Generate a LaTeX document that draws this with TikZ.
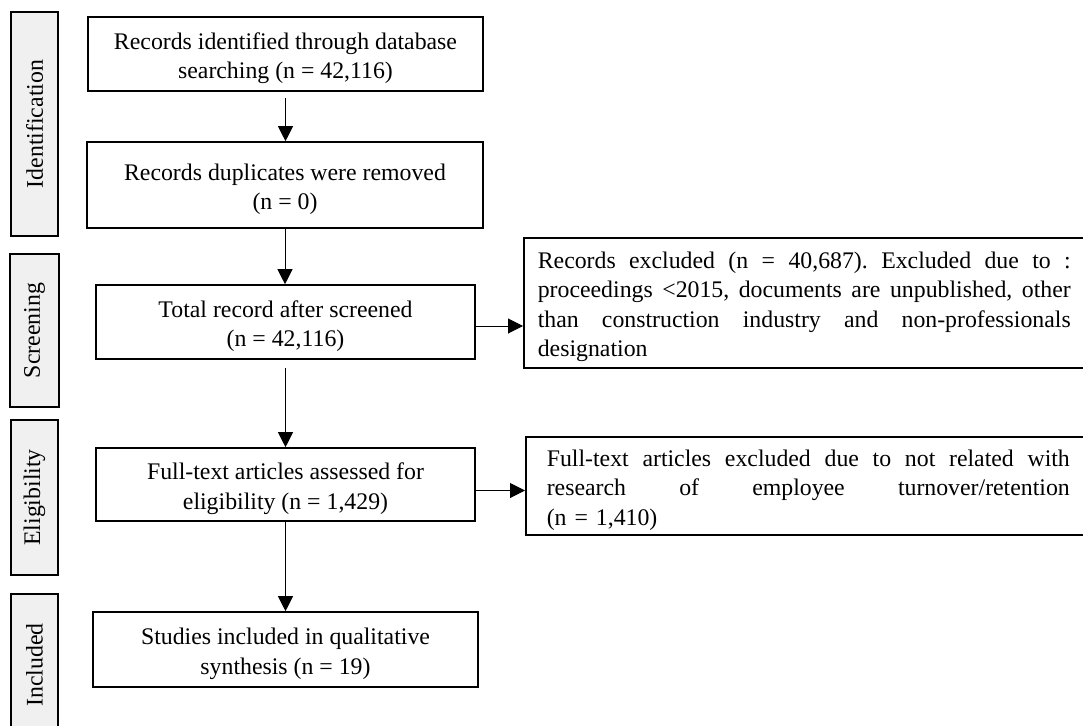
\documentclass[tikz,border=0pt]{standalone}
\usepackage{fontspec}
\setmainfont{Liberation Serif}
\usetikzlibrary{arrows.meta}
\definecolor{sidegray}{HTML}{F0F0F0}
\newcommand{\diagfont}{\fontsize{23.8}{29.5}\selectfont}
\newcommand{\jline}[2]{\leavevmode\hbox to #1{#2}}
\newcommand{\lowstrut}{\rule{0pt}{25pt}}
\begin{document}
\begin{tikzpicture}[x=1pt,y=-1pt,
  mainbox/.style={draw, line width=1.6pt, inner sep=0pt, align=center, font=\diagfont},
  exbox/.style={draw, line width=1.6pt, inner ysep=0pt, align=left, font=\diagfont, anchor=north west},
  sidebox/.style={draw, line width=1.4pt, fill=sidegray, inner sep=0pt, rotate=90, font=\diagfont},
  arr/.style={line width=1pt, -{Triangle[length=15pt,width=15pt]}}]
\useasboundingbox (0,0) rectangle (1083,725);
% side labels
\node[sidebox, minimum width=224, minimum height=47] (s1) at (34.5,124) {Identification};
\node[sidebox, minimum width=153, minimum height=49] (s2) at (34.5,330.5) {Screening};
\node[sidebox, minimum width=155, minimum height=47] (s3) at (34.5,497.5) {Eligibility};
\node[sidebox, minimum width=142, minimum height=47] (s4) at (34.5,665) {Included};
% main boxes
\node[mainbox, minimum width=395, minimum height=74] (b1) at (285.5,54) {\lowstrut Records identified through database\\searching (n = 42,116)};
\node[mainbox, minimum width=396, minimum height=86] (b2) at (285,185) {\lowstrut Records duplicates were removed\\(n = 0)};
\node[mainbox, minimum width=379, minimum height=74] (b3) at (285.5,322) {\lowstrut Total record after screened\\(n = 42,116)};
\node[mainbox, minimum width=379, minimum height=73] (b4) at (285.5,484.5) {\lowstrut Full-text articles assessed for\\eligibility (n = 1,429)};
\node[mainbox, minimum width=385, minimum height=75] (b5) at (285.5,649.5) {\lowstrut Studies included in qualitative\\synthesis (n = 19)};
% exclusion boxes
\node[exbox, text width=533pt, inner xsep=14pt, minimum height=130] (e1) at (523,237) {%
\jline{533pt}{\lowstrut Records\hfill excluded\hfill (n\hfill =\hfill 40,687).\hfill Excluded\hfill due\hfill to\hfill :}\\
\jline{533pt}{proceedings\hfill <2015,\hfill documents\hfill are\hfill unpublished,\hfill other}\\
\jline{533pt}{than\hfill construction\hfill industry\hfill and\hfill non-professionals}\\
designation};
\node[exbox, text width=523pt, inner xsep=21pt, minimum height=98] (e2) at (525,436) {%
\jline{523pt}{\lowstrut Full-text\hfill articles\hfill excluded\hfill due\hfill to\hfill not\hfill related\hfill with}\\
\jline{523pt}{research\hfill of\hfill employee\hfill turnover/retention}\\
(n = 1,410)};
% connectors
\draw[arr, shorten <=6pt] (b1.south) -- (b1.south |- b2.north);
\draw[arr] (b2.south) -- (b2.south |- b3.north);
\draw[arr, shorten <=8pt] (b3.south) -- (b3.south |- b4.north);
\draw[arr] (b4.south) -- (b4.south |- b5.north);
\draw[arr] ([yshift=-4pt]b3.east) -- ([yshift=-4pt]b3.east -| e1.west);
\draw[arr] ([yshift=-6pt]b4.east) -- ([yshift=-6pt]b4.east -| e2.west);
\end{tikzpicture}
\end{document}
